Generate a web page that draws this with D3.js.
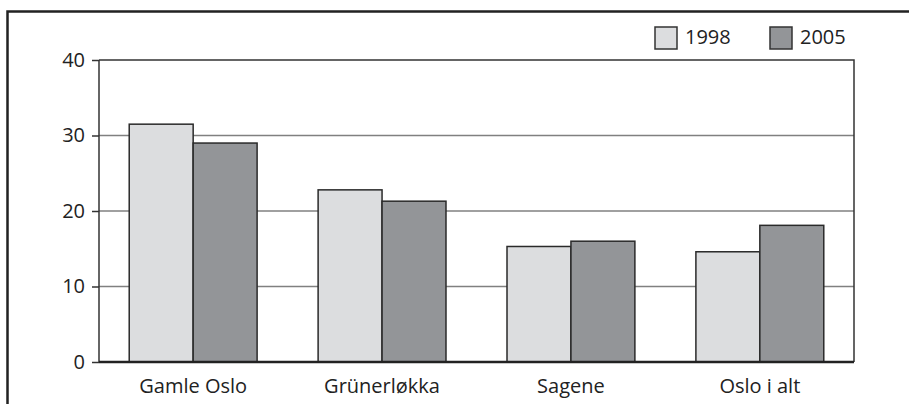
<!DOCTYPE html>
<html>
<head>
<meta charset="utf-8">
<script src="https://cdn.jsdelivr.net/npm/d3@7"></script>
<style>
  body { margin: 0; background: #fff; }
  svg text { font-family: "Open Sans", "DejaVu Sans", sans-serif; fill: #222; }
</style>
</head>
<body>
<div id="chart"></div>
<script>
// data
var categories = ["Gamle Oslo", "Grünerløkka", "Sagene", "Oslo i alt"];
var years = ["1998", "2005"];
var values1998 = [31.5, 22.8, 15.3, 14.6];
var values2005 = [29.0, 21.3, 16.0, 18.1];
var yTicks = [0, 10, 20, 30, 40];

var W = 909, H = 404;
var margin = {top: 60, right: 55, bottom: 42, left: 99},
    width = 854 - margin.left,
    height = 362 - margin.top;
var fontSize = "20px";

var svg = d3.select("#chart").append("svg")
    .attr("width", W)
    .attr("height", H);

// outer frame (top and left only visible)
svg.append("path")
    .attr("d", "M7.5,404 V11.5 H909")
    .attr("fill", "none")
    .attr("stroke", "#222")
    .attr("stroke-width", 2.5);

var g = svg.append("g")
    .attr("transform", "translate(" + margin.left + "," + margin.top + ")");

var x = d3.scaleBand().domain(categories).range([0, width]).paddingInner(0.323).paddingOuter(0.16);
var x1 = d3.scaleBand().domain(years).range([0, x.bandwidth()]);
var y = d3.scaleLinear().domain([0, 40]).range([height, 0]);
var color = {"1998": "#dcdddf", "2005": "#939598"};

// gridlines
g.selectAll(".grid").data(yTicks.filter(function(d) { return d > 0 && d < 40; }))
  .enter().append("line")
    .attr("x1", 0).attr("x2", width)
    .attr("y1", function(d) { return y(d); }).attr("y2", function(d) { return y(d); })
    .attr("stroke", "#808080").attr("stroke-width", 1.5);

// plot box: top and right
g.append("path")
    .attr("d", "M0," + y(40) + " H" + width + " V" + height)
    .attr("fill", "none").attr("stroke", "#333").attr("stroke-width", 1.5);

// bars
var data = categories.map(function(c, i) {
  return {cat: c, vals: [{year: "1998", v: values1998[i]}, {year: "2005", v: values2005[i]}]};
});

g.selectAll(".grp").data(data).enter().append("g")
    .attr("transform", function(d) { return "translate(" + x(d.cat) + ",0)"; })
  .selectAll("rect").data(function(d) { return d.vals; }).enter().append("rect")
    .attr("x", function(d) { return x1(d.year); })
    .attr("y", function(d) { return y(d.v); })
    .attr("width", x1.bandwidth())
    .attr("height", function(d) { return height - y(d.v); })
    .attr("fill", function(d) { return color[d.year]; })
    .attr("stroke", "#2a2a2a").attr("stroke-width", 1.5);

// y axis
var yAxis = g.append("g")
    .call(d3.axisLeft(y).tickValues(yTicks).tickSize(7).tickPadding(7));
yAxis.select(".domain").attr("stroke", "#333").attr("stroke-width", 1.5).attr("d", "M0," + height + "V0");
yAxis.selectAll(".tick line").attr("stroke", "#333").attr("stroke-width", 1.5);
yAxis.selectAll("text").style("font-size", fontSize).attr("fill", "#222");

// baseline
g.append("line")
    .attr("x1", 0).attr("x2", width)
    .attr("y1", height).attr("y2", height)
    .attr("stroke", "#222").attr("stroke-width", 2.5);

// x labels
g.selectAll(".xlab").data(categories).enter().append("text")
    .attr("x", function(d) { return x(d) + x.bandwidth() / 2; })
    .attr("y", height + 31)
    .attr("text-anchor", "middle")
    .style("font-size", fontSize)
    .text(function(d) { return d; });

// legend
var legend = svg.append("g");
var legendX = [655, 770];
years.forEach(function(yr, i) {
  legend.append("rect")
      .attr("x", legendX[i]).attr("y", 27)
      .attr("width", 22).attr("height", 22)
      .attr("fill", color[yr]).attr("stroke", "#333").attr("stroke-width", 1.5);
  legend.append("text")
      .attr("x", legendX[i] + 30).attr("y", 44)
      .style("font-size", fontSize)
      .text(yr);
});
</script>
</body>
</html>
